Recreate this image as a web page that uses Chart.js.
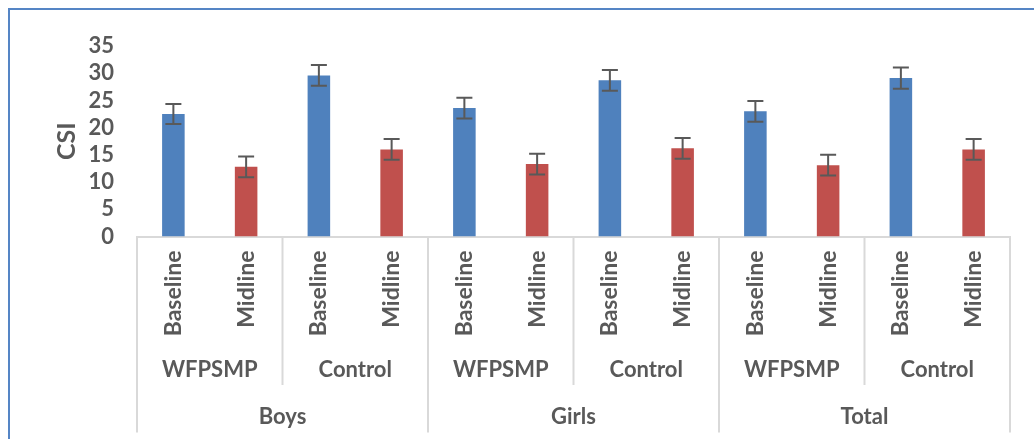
<!DOCTYPE html>
<html>
<head>
<meta charset="utf-8">
<script src="https://cdn.jsdelivr.net/npm/chart.js@4/dist/chart.umd.min.js"></script>
<style>
  html, body { margin: 0; padding: 0; background: #ffffff; }
  #wrap { width: 1034px; height: 439px; position: relative; }
</style>
</head>
<body>
<div id="wrap"><canvas id="csiChart" width="1034" height="439"></canvas></div>
<script>
// Category hierarchy: group > arm > phase
const groups = ['Boys', 'Girls', 'Total'];
const arms = ['WFPSMP', 'Control'];
const phases = ['Baseline', 'Midline'];

// Mean CSI per bar (Boys WFPSMP B/M, Boys Control B/M, Girls ..., Total ...)
const csiMeans = [22.5, 12.8, 29.6, 16.0, 23.6, 13.3, 28.7, 16.2, 23.0, 13.1, 29.1, 16.0];
// Error bar half-lengths
const csiErrors = [1.85, 1.9, 1.9, 1.9, 1.9, 1.9, 1.9, 1.9, 1.9, 1.9, 1.95, 1.9];
// Value axis ticks
const yTicks = [0, 5, 10, 15, 20, 25, 30, 35];

const phaseColors = { Baseline: '#4f81bd', Midline: '#c0504d' };
const TEXT = '#595959';
const FONT = 'Lato';
const GRID = '#d9d9d9';

// Flatten hierarchy into one label per bar
const phaseLabels = [];
const barArm = [];
const barGroup = [];
groups.forEach(g => arms.forEach(a => phases.forEach(p => {
  phaseLabels.push(p);
  barArm.push(a);
  barGroup.push(g);
})));

// Blue frame along the top and left edges
const framePlugin = {
  id: 'frame',
  beforeDraw(chart) {
    const ctx = chart.ctx;
    ctx.save();
    ctx.fillStyle = '#ffffff';
    ctx.fillRect(0, 0, chart.width, chart.height);
    ctx.strokeStyle = '#5585c5';
    ctx.lineWidth = 2;
    ctx.beginPath();
    ctx.moveTo(9, chart.height);
    ctx.lineTo(9, 9);
    ctx.lineTo(chart.width, 9);
    ctx.stroke();
    ctx.restore();
  }
};

// Error bars with caps, positioned through the value scale
const errorBarPlugin = {
  id: 'errorBars',
  afterDatasetsDraw(chart) {
    const ctx = chart.ctx;
    const y = chart.scales.y;
    const meta = chart.getDatasetMeta(0);
    ctx.save();
    ctx.strokeStyle = '#595959';
    ctx.lineWidth = 2;
    meta.data.forEach((bar, i) => {
      const v = csiMeans[i];
      const e = csiErrors[i];
      const yt = y.getPixelForValue(v + e);
      const yb = y.getPixelForValue(v - e);
      const cap = 8;
      ctx.beginPath();
      ctx.moveTo(bar.x, yt);
      ctx.lineTo(bar.x, yb);
      ctx.moveTo(bar.x - cap, yt);
      ctx.lineTo(bar.x + cap, yt);
      ctx.moveTo(bar.x - cap, yb);
      ctx.lineTo(bar.x + cap, yb);
      ctx.stroke();
    });
    ctx.restore();
  }
};

// Multi-level category labels and separators below the x axis
const groupAxisPlugin = {
  id: 'groupAxis',
  afterDraw(chart) {
    const ctx = chart.ctx;
    const xs = chart.scales.x;
    const step = xs.getPixelForValue(1) - xs.getPixelForValue(0);
    const edge = i => xs.getPixelForValue(i) - step / 2;
    const top = xs.top;
    const perGroup = arms.length * phases.length;
    ctx.save();
    ctx.strokeStyle = GRID;
    ctx.lineWidth = 2;
    for (let i = 0; i <= phaseLabels.length; i += phases.length) {
      const x = edge(i);
      const bottom = (i % perGroup === 0) ? 432.5 : 385;
      ctx.beginPath();
      ctx.moveTo(x, top);
      ctx.lineTo(x, bottom);
      ctx.stroke();
    }
    ctx.fillStyle = TEXT;
    ctx.font = 'bold 22px ' + FONT;
    ctx.textAlign = 'center';
    ctx.textBaseline = 'middle';
    for (let k = 0; k < groups.length * arms.length; k++) {
      const x = (edge(k * phases.length) + edge((k + 1) * phases.length)) / 2;
      ctx.fillText(barArm[k * phases.length], x, 370);
    }
    for (let g = 0; g < groups.length; g++) {
      const x = (edge(g * perGroup) + edge((g + 1) * perGroup)) / 2;
      ctx.fillText(groups[g], x, 417);
    }
    ctx.restore();
  }
};

new Chart(document.getElementById('csiChart'), {
  type: 'bar',
  data: {
    labels: phaseLabels,
    datasets: [{
      label: 'CSI',
      data: csiMeans,
      backgroundColor: phaseLabels.map(p => phaseColors[p]),
      barPercentage: 0.62,
      categoryPercentage: 0.5
    }]
  },
  options: {
    responsive: false,
    animation: false,
    layout: { padding: { left: 0, right: 24, top: 46, bottom: 0 } },
    plugins: {
      legend: { display: false },
      tooltip: { enabled: false }
    },
    scales: {
      x: {
        grid: { display: false, drawTicks: false },
        border: { display: true, color: GRID, width: 2 },
        ticks: {
          autoSkip: false,
          minRotation: 90,
          maxRotation: 90,
          padding: 14,
          color: TEXT,
          font: { family: FONT, size: 23, weight: 'bold' }
        },
        afterFit(scale) { scale.height = 202.5; }
      },
      y: {
        min: 0,
        max: 35,
        afterBuildTicks(scale) { scale.ticks = yTicks.map(v => ({ value: v })); },
        grid: { display: false, drawTicks: false },
        border: { display: false },
        ticks: {
          autoSkip: false,
          padding: 23,
          color: TEXT,
          font: { family: FONT, size: 22, weight: 'bold' }
        },
        title: {
          display: true,
          text: 'CSI',
          color: TEXT,
          font: { family: FONT, size: 25, weight: 'bold' },
          padding: { top: 52, bottom: 0 }
        },
        afterFit(scale) { scale.width = 137; }
      }
    }
  },
  plugins: [framePlugin, errorBarPlugin, groupAxisPlugin]
});
</script>
</body>
</html>
